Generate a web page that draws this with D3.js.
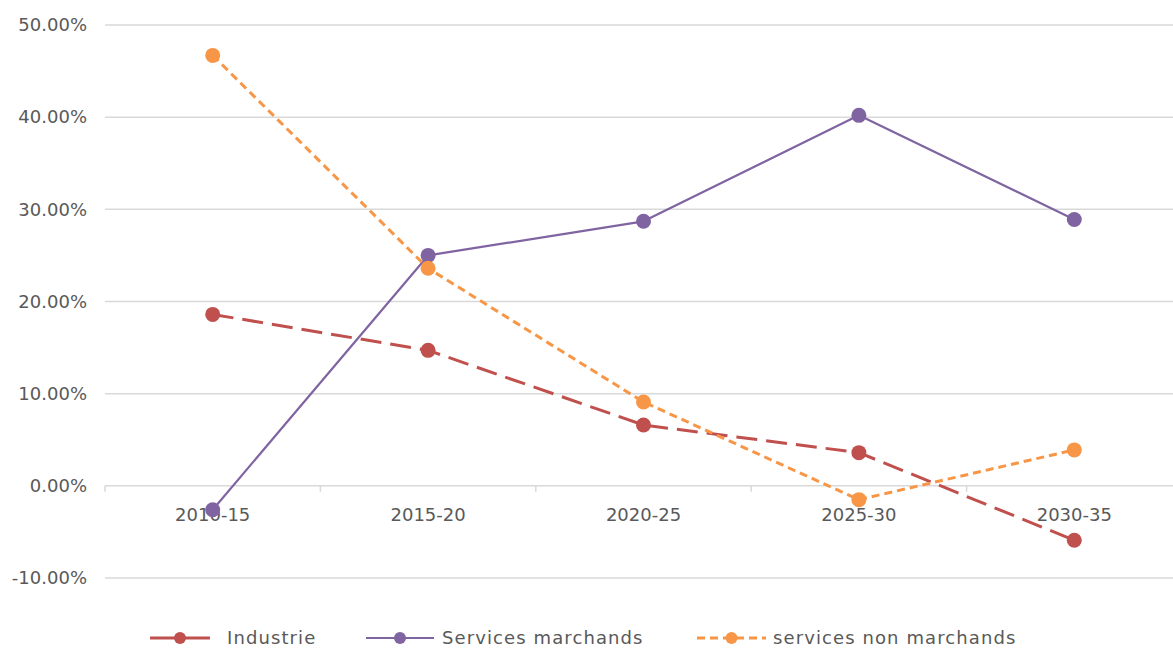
<!DOCTYPE html>
<html>
<head>
<meta charset="utf-8">
<script src="https://cdn.jsdelivr.net/npm/d3@7"></script>
<style>
  html, body { margin: 0; padding: 0; background: #fff; }
  svg { display: block; font-family: "DejaVu Sans", "Noto Sans", sans-serif; }
</style>
</head>
<body>
<svg id="chart" width="1173" height="648"></svg>
<script>
// Periods on the x axis
const periods = ["2010-15", "2015-20", "2020-25", "2025-30", "2030-35"];
// Growth per sector (%)
const industrie = [18.6, 14.7, 6.6, 3.6, -5.9];
const servicesMarchands = [-2.6, 25.0, 28.7, 40.2, 28.9];
const servicesNonMarchands = [46.7, 23.6, 9.1, -1.5, 3.9];
// Y tick values (%)
const yTicks = [-10, 0, 10, 20, 30, 40, 50];

const series = [
  { name: "Industrie", values: industrie, color: "#C0504D", dash: "21,9", width: 3 },
  { name: "Services marchands", values: servicesMarchands, color: "#8064A2", dash: null, width: 2.2 },
  { name: "services non marchands", values: servicesNonMarchands, color: "#F79646", dash: "8,5", width: 3 }
];

const svg = d3.select("#chart");
const plotLeft = 105, plotRight = 1182, plotTop = 25, plotBottom = 578;
const textColor = "#595959";

const x = d3.scaleBand().domain(periods).range([plotLeft, plotRight]);
const y = d3.scaleLinear().domain([-10, 50]).range([plotBottom, plotTop]);
const cx = p => x(p) + x.bandwidth() / 2;

// Horizontal gridlines
svg.append("g")
  .selectAll("line")
  .data(yTicks)
  .join("line")
  .attr("x1", plotLeft).attr("x2", 1173)
  .attr("y1", d => y(d)).attr("y2", d => y(d))
  .attr("stroke", "#D9D9D9").attr("stroke-width", 1.5);

// Y labels
svg.append("g")
  .selectAll("text")
  .data(yTicks)
  .join("text")
  .attr("x", 87).attr("y", d => y(d))
  .attr("dy", "0.35em")
  .attr("text-anchor", "end")
  .attr("fill", textColor)
  .attr("font-size", 18)
  .text(d => d.toFixed(2) + "%");

// Category axis sitting on the zero line: ticks at band boundaries
const gx = svg.append("g").attr("transform", `translate(0,${y(0)})`);
const boundaries = periods.map(p => x(p)).concat([plotRight]);
gx.selectAll("line")
  .data(boundaries)
  .join("line")
  .attr("x1", d => d).attr("x2", d => d)
  .attr("y1", 0).attr("y2", 6)
  .attr("stroke", "#D9D9D9").attr("stroke-width", 1.5);
gx.selectAll("text")
  .data(periods)
  .join("text")
  .attr("x", d => cx(d))
  .attr("y", 35)
  .attr("text-anchor", "middle")
  .attr("fill", textColor)
  .attr("font-size", 18)
  .text(d => d);

// Lines and markers
const line = d3.line()
  .x((d, i) => cx(periods[i]))
  .y(d => y(d));

series.forEach(s => {
  const g = svg.append("g");
  g.append("path")
    .datum(s.values)
    .attr("d", line)
    .attr("fill", "none")
    .attr("stroke", s.color)
    .attr("stroke-width", s.width)
    .attr("stroke-dasharray", s.dash)
    .attr("stroke-linejoin", "round");
  g.selectAll("circle")
    .data(s.values)
    .join("circle")
    .attr("cx", (d, i) => cx(periods[i]))
    .attr("cy", d => y(d))
    .attr("r", 7.5)
    .attr("fill", s.color);
});

// Legend
const legendY = 638;
const legendItems = [
  { s: series[0], x0: 150, x1: 210, tx: 227, dash: null },
  { s: series[1], x0: 366, x1: 434, tx: 442, dash: null },
  { s: series[2], x0: 697, x1: 766, tx: 773, dash: "8,5" }
];
const lg = svg.append("g");
legendItems.forEach(it => {
  lg.append("line")
    .attr("x1", it.x0).attr("x2", it.x1)
    .attr("y1", legendY).attr("y2", legendY)
    .attr("stroke", it.s.color)
    .attr("stroke-width", it.s.width)
    .attr("stroke-dasharray", it.dash);
  lg.append("circle")
    .attr("cx", (it.x0 + it.x1) / 2).attr("cy", legendY)
    .attr("r", 6).attr("fill", it.s.color);
  lg.append("text")
    .attr("x", it.tx).attr("y", legendY).attr("dy", "0.35em")
    .attr("fill", textColor).attr("font-size", 18)
    .attr("letter-spacing", 1.1)
    .text(it.s.name);
});
</script>
</body>
</html>
